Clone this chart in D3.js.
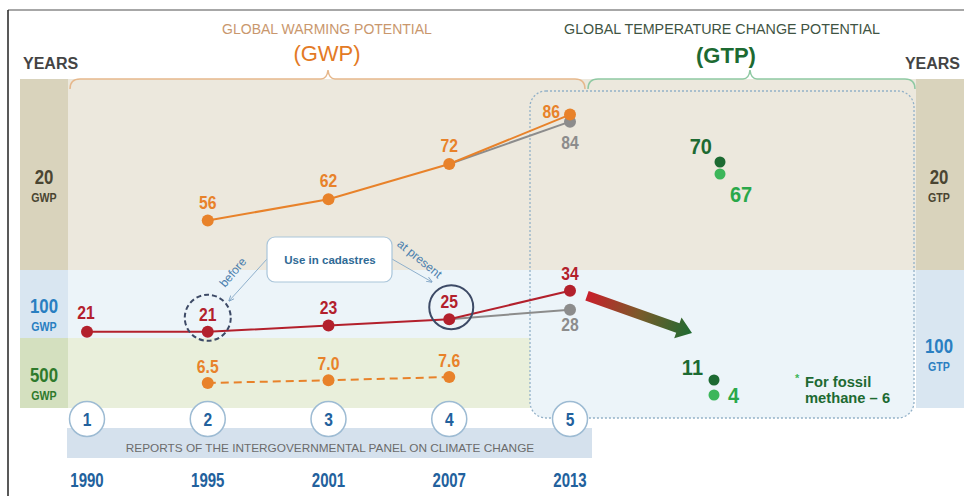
<!DOCTYPE html>
<html><head><meta charset="utf-8">
<script src="https://cdn.jsdelivr.net/npm/d3@7/dist/d3.min.js"></script>
<style>body{margin:0;background:#fff}svg{display:block}</style>
</head><body>
<svg id="c" width="964" height="496"></svg>
<script>
// ---- data ----
const reports = [1, 2, 3, 4, 5];
const years = ["1990", "1995", "2001", "2007", "2013"];
const gwp20 = [null, 56, 62, 72, 86];
const gwp20Alt = [null, null, null, 72, 84];
const gwp100 = [21, 21, 23, 25, 34];
const gwp100Alt = [null, null, null, 25, 28];
const gwp500 = [null, 6.5, 7.0, 7.6, null];
const gtp20 = [70, 67];
const gtp100 = [11, 4];
const fossilNote = ["For fossil", "methane \u2013 6"];

const svg = d3.select("#c");
const sans = "'Liberation Sans',Arial,sans-serif";

const C = {
  beige: "#ece8dd", tan: "#d9d3bc", blue: "#ecf4f9", blueCol: "#d9e6f1",
  green: "#e9efdb", greenCol: "#d4e0bf", orange: "#e8822a", red: "#b3202c",
  gray: "#8c8c8c", dkGreen: "#1d6a32", ltGreen: "#3cb65a", yearBlue: "#22619d"
};

// condensed bold text helper (horizontal squeeze of Liberation Sans Bold)
function ctext(parent, xx, yy, t, size, col, anchor, sx) {
  return parent.append("text")
    .attr("transform", `translate(${xx},${yy}) scale(${sx || 0.82},1)`)
    .attr("text-anchor", anchor || "middle")
    .attr("font-family", sans).attr("font-weight", "bold").attr("font-size", size)
    .attr("fill", col).text(t);
}

// ---- scales ----
const x = d3.scalePoint().domain(reports).range([87, 570]);
const y20 = d3.scaleLinear().domain([56, 86]).range([220.5, 114.6]);
const y100 = d3.scaleLinear().domain([21, 34]).range([331.8, 290.8]);
const y500 = d3.scaleLinear().domain([6.5, 7.6]).range([383, 377]);
const yG20 = d3.scaleLinear().domain([67, 70]).range([174, 162]);
const yG100 = d3.scaleLinear().domain([4, 11]).range([395, 380]);
const gtpX20 = 720, gtpX100 = 714;

// ---- frame ----
svg.append("line").attr("x1", 8).attr("x2", 964).attr("y1", 10).attr("y2", 10).attr("stroke", "#8a8a8a").attr("stroke-width", 1.5);
svg.append("line").attr("x1", 8).attr("x2", 8).attr("y1", 10).attr("y2", 496).attr("stroke", "#222").attr("stroke-width", 1.5);

// ---- bands ----
const bandTop = 79, b1 = 270, b2 = 338, b3 = 408;
svg.append("rect").attr("x", 20).attr("y", bandTop).attr("width", 48).attr("height", b1 - bandTop).attr("fill", C.tan);
svg.append("rect").attr("x", 20).attr("y", b1).attr("width", 48).attr("height", b2 - b1).attr("fill", C.blueCol);
svg.append("rect").attr("x", 20).attr("y", b2).attr("width", 48).attr("height", b3 - b2).attr("fill", C.greenCol);
svg.append("rect").attr("x", 68).attr("y", bandTop).attr("width", 848).attr("height", b1 - bandTop).attr("fill", C.beige);
svg.append("rect").attr("x", 68).attr("y", b1).attr("width", 848).attr("height", b2 - b1).attr("fill", C.blue);
svg.append("rect").attr("x", 68).attr("y", b2).attr("width", 462).attr("height", b3 - b2).attr("fill", C.green);
svg.append("rect").attr("x", 916).attr("y", bandTop).attr("width", 48).attr("height", b1 - bandTop).attr("fill", C.tan);
svg.append("rect").attr("x", 916).attr("y", b1).attr("width", 48).attr("height", b3 - b1).attr("fill", C.blueCol);

// GTP box
const defs = svg.append("defs");
defs.append("clipPath").attr("id", "lowClip").append("rect").attr("x", 0).attr("y", b1).attr("width", 964).attr("height", 300);
svg.append("rect").attr("x", 530).attr("y", 91).attr("width", 384).attr("height", 327).attr("rx", 16)
  .attr("fill", C.blue).attr("clip-path", "url(#lowClip)");
svg.append("rect").attr("x", 530).attr("y", 91).attr("width", 384).attr("height", 327).attr("rx", 16)
  .attr("fill", "none").attr("stroke", "#93b1c8").attr("stroke-width", 1.3).attr("stroke-dasharray", "2,2");

// braces
function brace(x0, x1, tip, yb, col) {
  const p = d3.path();
  p.moveTo(x0, yb + 10); p.quadraticCurveTo(x0, yb, x0 + 10, yb);
  p.lineTo(tip - 7, yb); p.quadraticCurveTo(tip - 1, yb, tip, yb - 9);
  p.quadraticCurveTo(tip + 1, yb, tip + 7, yb);
  p.lineTo(x1 - 10, yb); p.quadraticCurveTo(x1, yb, x1, yb + 10);
  svg.append("path").attr("d", p.toString()).attr("fill", "none").attr("stroke", col).attr("stroke-width", 1.5);
}
brace(70, 585, 328, 79, "#e6b88c");
brace(588, 915, 750, 79, "#8fc9a3");

// titles
svg.append("text").attr("x", 327).attr("y", 34).attr("text-anchor", "middle").attr("font-family", sans).attr("font-size", 14).attr("fill", "#c9976d").text("GLOBAL WARMING POTENTIAL");
svg.append("text").attr("x", 327).attr("y", 61).attr("text-anchor", "middle").attr("font-family", sans).attr("font-size", 22).attr("fill", "#e37a25").text("(GWP)");
svg.append("text").attr("x", 722).attr("y", 34).attr("text-anchor", "middle").attr("font-family", sans).attr("font-size", 14.3).attr("fill", "#3f5443").text("GLOBAL TEMPERATURE CHANGE POTENTIAL");
svg.append("text").attr("x", 726).attr("y", 63).attr("text-anchor", "middle").attr("font-family", sans).attr("font-weight", "bold").attr("font-size", 22).attr("fill", C.dkGreen).text("(GTP)");
svg.append("text").attr("x", 23).attr("y", 69).attr("font-family", sans).attr("font-weight", "bold").attr("font-size", 16).attr("fill", "#444").text("YEARS");
svg.append("text").attr("x", 960).attr("y", 69).attr("text-anchor", "end").attr("font-family", sans).attr("font-weight", "bold").attr("font-size", 16).attr("fill", "#444").text("YEARS");

// side labels
function sideLabel(cx, yBig, big, small, col) {
  ctext(svg, cx, yBig, big, 21, col, "middle", 0.8);
  ctext(svg, cx, yBig + 18, small, 12.5, col, "middle", 0.85);
}
sideLabel(44, 184, "20", "GWP", "#4a4532");
sideLabel(44, 313, "100", "GWP", "#2a7fc1");
sideLabel(44, 382, "500", "GWP", "#2f7a2c");
sideLabel(939, 184, "20", "GTP", "#4a4532");
sideLabel(939, 353, "100", "GTP", "#2a7fc1");

// bottom report band
svg.append("rect").attr("x", 67).attr("y", 428).attr("width", 525).attr("height", 30).attr("fill", "#d5e1ed");
svg.append("text").attr("x", 330).attr("y", 452).attr("text-anchor", "middle").attr("font-family", sans).attr("font-size", 11.8).attr("fill", "#6b6b6b").text("REPORTS OF THE INTERGOVERNMENTAL PANEL ON CLIMATE CHANGE");
const rep = svg.append("g").selectAll("g").data(reports).join("g").attr("transform", d => `translate(${x(d)},419)`);
rep.append("circle").attr("r", 17.5).attr("fill", "#fff").attr("stroke", "#9dbbd3").attr("stroke-width", 1.5);
rep.each(function (d) { ctext(d3.select(this), 0, 7, d, 19, C.yearBlue, "middle", 0.82); });
years.forEach((yr, i) => ctext(svg, x(reports[i]), 487, yr, 19.5, C.yearBlue, "middle", 0.77));

// ---- series ----
function series(vals, ys, col, dash) {
  const pts = vals.map((v, i) => ({ v, i })).filter(d => d.v != null);
  const line = d3.line().x(d => x(reports[d.i])).y(d => ys(d.v));
  svg.append("path").attr("d", line(pts)).attr("fill", "none").attr("stroke", col).attr("stroke-width", 2)
    .attr("stroke-dasharray", dash || null);
  return pts;
}
function dots(pts, ys, col) {
  svg.append("g").selectAll("circle").data(pts).join("circle").attr("cx", d => x(reports[d.i])).attr("cy", d => ys(d.v)).attr("r", 6).attr("fill", col);
}
function labels(pts, ys, col, fmt, pos) {
  const g = svg.append("g");
  pts.forEach(d => {
    const p = pos(d);
    ctext(g, x(reports[d.i]) + (p.dx || 0), ys(d.v) + p.dy, fmt(d.v), 18.5, col, p.anchor || "middle", 0.85);
  });
}

const p20a = series(gwp20Alt, y20, C.gray);
const p100a = series(gwp100Alt, y100, C.gray);
const p20 = series(gwp20, y20, C.orange);
const p100 = series(gwp100, y100, C.red);
const p500 = series(gwp500, y500, C.orange, "8,5");

// highlight circles (cadastres)
const hc = svg.append("g");
hc.append("circle").attr("cx", x(2)).attr("cy", y100(gwp100[1]) - 14).attr("r", 23).attr("fill", "none").attr("stroke", "#3d4a66").attr("stroke-width", 2).attr("stroke-dasharray", "5,3");
hc.append("circle").attr("cx", x(4) + 2).attr("cy", y100(gwp100[3]) - 12).attr("r", 22).attr("fill", "none").attr("stroke", "#3d4a66").attr("stroke-width", 2);

dots(p20a.filter(d => d.i === 4), y20, C.gray);
dots(p100a.filter(d => d.i === 4), y100, C.gray);
dots(p20, y20, C.orange);
dots(p100, y100, C.red);
dots(p500, y500, C.orange);

labels(p20, y20, C.orange, d => d, d => d.i === 4 ? { dx: -10, dy: 3, anchor: "end" } : { dy: -12 });
labels(p20a.filter(d => d.i === 4), y20, C.gray, d => d, () => ({ dy: 27 }));
labels(p100, y100, C.red, d => d, d => d.i === 0 ? { dx: -1, dy: -13 } : { dy: -11 });
labels(p100a.filter(d => d.i === 4), y100, C.gray, d => d, () => ({ dy: 21 }));
labels(p500, y500, C.orange, d => d.toFixed(1), () => ({ dy: -10 }));

// callout
defs.append("marker").attr("id", "ah").attr("viewBox", "0 0 10 10").attr("refX", 9).attr("refY", 5)
  .attr("markerWidth", 6).attr("markerHeight", 6).attr("orient", "auto")
  .append("path").attr("d", "M0,1L10,5L0,9").attr("fill", "none").attr("stroke", "#7fa3c4").attr("stroke-width", 1.5);
svg.append("line").attr("x1", 267).attr("y1", 259).attr("x2", 229).attr("y2", 301).attr("stroke", "#8fb0cc").attr("stroke-width", 1).attr("marker-end", "url(#ah)");
svg.append("line").attr("x1", 392).attr("y1", 259).attr("x2", 432).attr("y2", 282).attr("stroke", "#8fb0cc").attr("stroke-width", 1).attr("marker-end", "url(#ah)");
svg.append("rect").attr("x", 267).attr("y", 237).attr("width", 125).attr("height", 45).attr("rx", 8).attr("fill", "#fff").attr("stroke", "#a9c5da").attr("stroke-width", 1.2);
svg.append("text").attr("x", 330).attr("y", 264).attr("text-anchor", "middle").attr("font-family", sans).attr("font-weight", "bold").attr("font-size", 11.5).attr("fill", "#2f6a95").text("Use in cadastres");
svg.append("text").attr("transform", "translate(236,275) rotate(-50)").attr("text-anchor", "middle").attr("font-family", sans).attr("font-size", 12).attr("fill", "#4a7fae").text("before");
svg.append("text").attr("transform", "translate(417,262) rotate(39)").attr("text-anchor", "middle").attr("font-family", sans).attr("font-size", 12).attr("fill", "#4a7fae").text("at present");

// gradient arrow
const sx = x(5) + 17, sy = y100(gwp100[4]) + 5, ex = 692, ey = 333;
const grad = defs.append("linearGradient").attr("id", "ag").attr("gradientUnits", "userSpaceOnUse")
  .attr("x1", sx).attr("y1", sy).attr("x2", ex).attr("y2", ey);
grad.append("stop").attr("offset", 0).attr("stop-color", "#c91f2b");
grad.append("stop").attr("offset", 0.5).attr("stop-color", "#7a5a2a");
grad.append("stop").attr("offset", 1).attr("stop-color", "#1f6b32");
(function () {
  const ang = Math.atan2(ey - sy, ex - sx), L = Math.hypot(ex - sx, ey - sy);
  const hw = 5, hl = 15, hh = 11;
  const pts = [[0, -hw], [L - hl, -hw], [L - hl, -hh], [L, 0], [L - hl, hh], [L - hl, hw], [0, hw]]
    .map(([u, v]) => [sx + u * Math.cos(ang) - v * Math.sin(ang), sy + u * Math.sin(ang) + v * Math.cos(ang)]);
  svg.append("polygon").attr("points", pts.map(p => p.join(",")).join(" ")).attr("fill", "url(#ag)");
})();

// GTP dots
svg.append("circle").attr("cx", gtpX20).attr("cy", yG20(gtp20[0])).attr("r", 5.5).attr("fill", C.dkGreen);
svg.append("circle").attr("cx", gtpX20).attr("cy", yG20(gtp20[1])).attr("r", 5.5).attr("fill", C.ltGreen);
svg.append("circle").attr("cx", gtpX100).attr("cy", yG100(gtp100[0])).attr("r", 5.5).attr("fill", C.dkGreen);
svg.append("circle").attr("cx", gtpX100).attr("cy", yG100(gtp100[1])).attr("r", 5.5).attr("fill", C.ltGreen);
ctext(svg, gtpX20 - 8, yG20(gtp20[0]) - 8, gtp20[0], 21.5, C.dkGreen, "end", 0.93);
ctext(svg, gtpX20 + 10, yG20(gtp20[1]) + 28, gtp20[1], 21.5, "#2aa84a", "start", 0.93);
ctext(svg, gtpX100 - 11, yG100(gtp100[0]) - 5, gtp100[0], 21.5, C.dkGreen, "end", 0.93);
ctext(svg, gtpX100 + 14, yG100(gtp100[1]) + 8, gtp100[1], 21.5, "#2aa84a", "start", 0.93);

// note
svg.append("text").attr("x", 795).attr("y", 382).attr("font-family", sans).attr("font-weight", "bold").attr("font-size", 11).attr("fill", C.ltGreen).text("*");
fossilNote.forEach((t, i) => ctext(svg, 805, 387 + i * 16, t, 15.5, C.dkGreen, "start", 0.95));
</script>
</body></html>
